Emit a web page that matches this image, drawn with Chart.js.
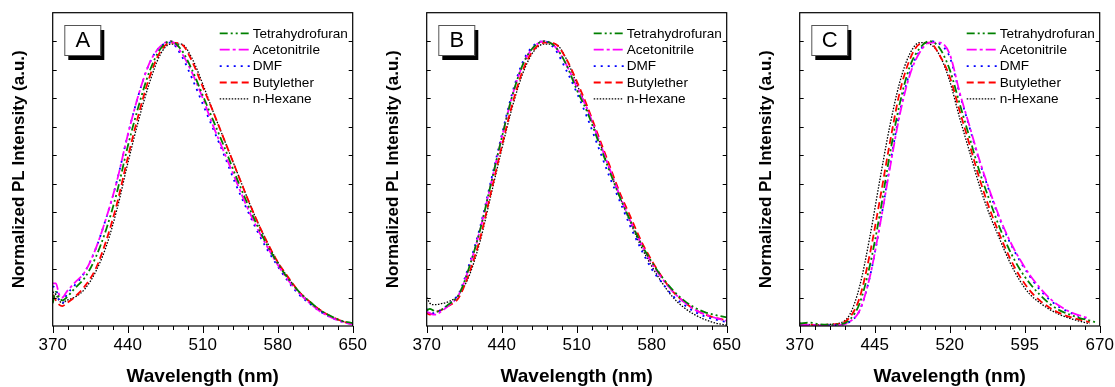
<!DOCTYPE html>
<html>
<head>
<meta charset="utf-8">
<script src="https://cdn.jsdelivr.net/npm/chart.js@4.4.1/dist/chart.umd.min.js"></script>
<style>
  body { margin: 0; background: #fff; width: 1115px; height: 387px; position: relative; overflow: hidden; }
  canvas { position: absolute; top: 0; }
</style>
</head>
<body>
<canvas id="chartA" width="372" height="387" style="left:0px"></canvas>
<canvas id="chartB" width="372" height="387" style="left:372px"></canvas>
<canvas id="chartC" width="371" height="387" style="left:744px"></canvas>
<script>
// --- data ---
const seriesNames = ["Tetrahydrofuran", "Acetonitrile", "DMF", "Butylether", "n-Hexane"];

const xTicksAB = [370, 440, 510, 580, 650];
const xTicksC = [370, 445, 520, 595, 670];

// panel A
const wlA = [370, 373, 376, 379, 383, 390, 400, 410, 420, 430, 440, 450, 460, 470, 480, 490, 500, 510, 520, 530, 540, 550, 560, 570, 580, 590, 600, 610, 620, 630, 640, 650];
const thfA = [0.08, 0.12, 0.10, 0.09, 0.10, 0.13, 0.17, 0.24, 0.34, 0.47, 0.63, 0.77, 0.89, 0.97, 1.0, 0.97, 0.90, 0.81, 0.72, 0.63, 0.535, 0.445, 0.36, 0.285, 0.22, 0.165, 0.12, 0.085, 0.055, 0.034, 0.018, 0.01];
const acnA = [0.15, 0.15, 0.11, 0.10, 0.12, 0.15, 0.19, 0.27, 0.38, 0.51, 0.67, 0.81, 0.92, 0.98, 1.0, 0.96, 0.89, 0.80, 0.70, 0.61, 0.52, 0.43, 0.35, 0.28, 0.215, 0.16, 0.115, 0.08, 0.05, 0.03, 0.015, 0.005];
const dmfA = [0.14, 0.13, 0.09, 0.08, 0.11, 0.14, 0.19, 0.27, 0.38, 0.51, 0.67, 0.81, 0.92, 0.98, 0.995, 0.95, 0.87, 0.78, 0.69, 0.60, 0.505, 0.42, 0.34, 0.27, 0.21, 0.155, 0.11, 0.078, 0.05, 0.03, 0.015, 0.006];
const buA = [0.11, 0.09, 0.075, 0.07, 0.08, 0.10, 0.14, 0.20, 0.30, 0.43, 0.59, 0.74, 0.87, 0.96, 0.995, 0.99, 0.93, 0.84, 0.75, 0.655, 0.56, 0.465, 0.375, 0.295, 0.225, 0.17, 0.12, 0.085, 0.055, 0.033, 0.017, 0.006];
const hexA = [0.12, 0.11, 0.09, 0.08, 0.09, 0.10, 0.13, 0.19, 0.28, 0.41, 0.57, 0.72, 0.85, 0.95, 0.99, 0.99, 0.94, 0.85, 0.75, 0.655, 0.56, 0.465, 0.375, 0.295, 0.225, 0.168, 0.12, 0.084, 0.055, 0.033, 0.017, 0.006];

// panel B
const wlB = [370, 373, 376, 379, 383, 390, 400, 410, 420, 430, 440, 450, 460, 470, 480, 490, 500, 510, 520, 530, 540, 550, 560, 570, 580, 590, 600, 610, 620, 630, 640, 650];
const thfB = [0.055, 0.06, 0.055, 0.05, 0.055, 0.075, 0.11, 0.21, 0.34, 0.50, 0.66, 0.81, 0.92, 0.98, 1.0, 0.98, 0.92, 0.83, 0.75, 0.65, 0.55, 0.455, 0.37, 0.29, 0.225, 0.17, 0.125, 0.09, 0.065, 0.048, 0.038, 0.03];
const acnB = [0.05, 0.045, 0.04, 0.04, 0.05, 0.07, 0.11, 0.21, 0.34, 0.50, 0.66, 0.81, 0.92, 0.98, 1.0, 0.98, 0.92, 0.84, 0.76, 0.66, 0.56, 0.46, 0.37, 0.29, 0.22, 0.165, 0.12, 0.085, 0.058, 0.04, 0.028, 0.018];
const dmfB = [0.06, 0.05, 0.045, 0.05, 0.055, 0.075, 0.115, 0.22, 0.35, 0.51, 0.67, 0.82, 0.93, 0.985, 1.0, 0.97, 0.90, 0.82, 0.73, 0.63, 0.53, 0.44, 0.35, 0.27, 0.20, 0.15, 0.105, 0.075, 0.05, 0.033, 0.022, 0.014];
const buB = [0.045, 0.04, 0.045, 0.05, 0.055, 0.07, 0.10, 0.19, 0.31, 0.47, 0.63, 0.78, 0.90, 0.97, 0.995, 0.99, 0.94, 0.86, 0.77, 0.67, 0.57, 0.47, 0.385, 0.30, 0.23, 0.17, 0.12, 0.085, 0.058, 0.04, 0.028, 0.02];
const hexB = [0.10, 0.08, 0.075, 0.075, 0.078, 0.085, 0.11, 0.18, 0.30, 0.46, 0.62, 0.77, 0.89, 0.965, 0.99, 0.99, 0.94, 0.85, 0.76, 0.66, 0.555, 0.455, 0.365, 0.28, 0.21, 0.15, 0.10, 0.065, 0.04, 0.022, 0.01, 0.003];

// panel C
const wlC = [370, 380, 390, 400, 410, 420, 430, 440, 450, 460, 470, 480, 490, 500, 510, 520, 530, 540, 550, 560, 570, 580, 590, 600, 610, 620, 630, 640, 650, 660, 666];
const thfC = [0.008, 0.012, 0.006, 0.005, 0.006, 0.022, 0.08, 0.21, 0.39, 0.60, 0.78, 0.91, 0.975, 1.0, 0.975, 0.90, 0.78, 0.66, 0.54, 0.44, 0.345, 0.265, 0.20, 0.15, 0.11, 0.078, 0.055, 0.04, 0.028, 0.019, 0.013];
const acnC = [0.004, 0.003, 0.003, 0.003, 0.004, 0.015, 0.055, 0.17, 0.35, 0.55, 0.74, 0.88, 0.96, 0.995, 0.995, 0.955, 0.82, 0.70, 0.58, 0.475, 0.38, 0.30, 0.235, 0.18, 0.135, 0.097, 0.07, 0.05, 0.037, 0.026, null];
const dmfC = [0.002, 0.002, 0.003, 0.003, 0.004, 0.015, 0.055, 0.17, 0.35, 0.56, 0.75, 0.89, 0.965, 1.0, 0.99, 0.945, 0.815, 0.695, 0.575, 0.47, 0.375, 0.295, 0.23, 0.175, 0.128, 0.092, 0.066, 0.048, 0.034, 0.024, null];
const buC = [0.008, 0.005, 0.004, 0.005, 0.008, 0.03, 0.10, 0.25, 0.44, 0.64, 0.82, 0.935, 0.99, 0.995, 0.95, 0.875, 0.755, 0.635, 0.515, 0.41, 0.32, 0.24, 0.175, 0.125, 0.09, 0.064, 0.045, 0.032, 0.022, 0.014, null];
const hexC = [0.01, 0.005, 0.004, 0.006, 0.01, 0.04, 0.14, 0.31, 0.51, 0.70, 0.855, 0.955, 0.995, 0.99, 0.95, 0.86, 0.73, 0.61, 0.49, 0.39, 0.305, 0.225, 0.16, 0.112, 0.082, 0.058, 0.04, 0.027, 0.017, 0.008, null];

// --- styles ---
const FONT = 'Arial, "Liberation Sans", sans-serif';
const lineStyles = [
    { color: '#008000', dash: [8, 3, 2, 3, 2, 3] },
    { color: '#ff00ff', dash: [10, 3, 3, 3] },
    { color: '#0000ff', dash: [2, 5] },
    { color: '#ff0000', dash: [7, 4] },
    { color: '#000000', dash: [1.5, 1.5] }
];

function makeDatasets(wl, lists) {
    return lists.map((vals, i) => ({
        label: seriesNames[i],
        data: wl.map((w, k) => ({ x: w, y: vals[k] })),
        borderColor: lineStyles[i].color,
        borderDash: lineStyles[i].dash,
        borderWidth: i === 4 ? 1.3 : 1.8,
        pointRadius: 0,
        fill: false,
        cubicInterpolationMode: 'monotone',
        spanGaps: false
    }));
}

// axes frame, minor ticks, titles, legend and panel letter
const decorations = {
    id: 'decorations',
    afterDraw(chart, args, opts) {
        const { ctx, chartArea: a, scales: { x, y } } = chart;
        ctx.save();
        ctx.strokeStyle = '#000';
        ctx.lineWidth = 1.2;
        ctx.setLineDash([]);
        ctx.strokeRect(a.left, a.top, a.right - a.left, a.bottom - a.top);

        // y ticks, inward on both sides
        ctx.lineWidth = 1;
        for (let i = 1; i <= 10; i++) {
            const py = Math.round(y.getPixelForValue(i / 10)) + 0.5;
            ctx.beginPath();
            ctx.moveTo(a.left, py); ctx.lineTo(a.left + 4, py);
            ctx.moveTo(a.right, py); ctx.lineTo(a.right - 4, py);
            ctx.stroke();
        }
        // x ticks, outward
        for (let v = x.min; v <= x.max + 0.01; v += opts.minor) {
            const major = Math.abs(((v - x.min) / opts.major) - Math.round((v - x.min) / opts.major)) < 0.01;
            const px = Math.round(x.getPixelForValue(v)) + 0.5;
            ctx.beginPath();
            ctx.moveTo(px, a.bottom);
            ctx.lineTo(px, a.bottom + (major ? 7 : 4));
            ctx.stroke();
        }

        // axis titles
        ctx.fillStyle = '#000';
        ctx.textAlign = 'center';
        ctx.textBaseline = 'middle';
        ctx.font = 'bold 19px ' + FONT;
        ctx.fillText('Wavelength (nm)', (a.left + a.right) / 2, 377);
        ctx.save();
        ctx.translate(a.left - 33.5, (a.top + a.bottom) / 2);
        ctx.rotate(-Math.PI / 2);
        ctx.font = 'bold 17px ' + FONT;
        ctx.fillText('Normalized PL Intensity (a.u.)', 0, 0);
        ctx.restore();

        // legend
        ctx.font = '13.6px ' + FONT;
        ctx.textAlign = 'left';
        chart.data.datasets.forEach((ds, i) => {
            const ly = a.top + 20.6 + i * 16.4;
            ctx.beginPath();
            ctx.strokeStyle = ds.borderColor;
            ctx.lineWidth = ds.borderWidth;
            ctx.setLineDash(ds.borderDash);
            ctx.moveTo(a.right - 133, ly);
            ctx.lineTo(a.right - 103, ly);
            ctx.stroke();
            ctx.fillText(ds.label, a.right - 100, ly + 0.5);
        });

        // panel letter box with shadow
        ctx.setLineDash([]);
        const bx = a.left + 11.6, by = a.top + 12.3, bw = 36, bh = 30;
        ctx.fillStyle = '#000';
        ctx.fillRect(bx + 4, by + 5, bw, bh);
        ctx.fillStyle = '#fff';
        ctx.fillRect(bx, by, bw, bh);
        ctx.strokeStyle = '#555';
        ctx.lineWidth = 1;
        ctx.strokeRect(bx + 0.5, by + 0.5, bw, bh);
        ctx.fillStyle = '#000';
        ctx.font = '22px ' + FONT;
        ctx.textAlign = 'center';
        ctx.fillText(opts.letter, bx + bw / 2 + 0.5, by + bh / 2 + 1);
        ctx.restore();
    }
};

function makeChart(id, wl, lists, xMin, xMax, xTicks, minor, letter, leftW, padRight) {
    const ctx = document.getElementById(id).getContext('2d');
    return new Chart(ctx, {
        type: 'line',
        data: { datasets: makeDatasets(wl, lists) },
        options: {
            responsive: false,
            animation: false,
            events: [],
            layout: { padding: { top: 12.7, right: padRight, left: 0, bottom: 0 } },
            plugins: {
                legend: { display: false },
                tooltip: { enabled: false },
                decorations: { letter: letter, minor: minor, major: xTicks[1] - xTicks[0] }
            },
            scales: {
                x: {
                    type: 'linear',
                    min: xMin,
                    max: xMax,
                    afterBuildTicks: s => { s.ticks = xTicks.map(v => ({ value: v })); },
                    afterFit: s => { s.height = 61; s.paddingLeft = 0; s.paddingRight = 0; },
                    grid: { display: false, drawTicks: false },
                    border: { display: false },
                    ticks: {
                        font: { size: 17, family: FONT },
                        color: '#000',
                        padding: 9,
                        maxRotation: 0,
                        autoSkip: false
                    }
                },
                y: {
                    min: 0,
                    max: 1.1,
                    afterFit: s => { s.width = leftW; s.paddingTop = 0; s.paddingBottom = 0; },
                    grid: { display: false, drawTicks: false },
                    border: { display: false },
                    ticks: { display: false }
                }
            }
        },
        plugins: [decorations]
    });
}

makeChart('chartA', wlA, [thfA, acnA, dmfA, buA, hexA], 370, 650, xTicksAB, 14, 'A', 52.7, 19.3);
makeChart('chartB', wlB, [thfB, acnB, dmfB, buB, hexB], 370, 650, xTicksAB, 14, 'B', 54.7, 17.3);
makeChart('chartC', wlC, [thfC, acnC, dmfC, buC, hexC], 370, 670, xTicksC, 15, 'C', 55.7, 15.3);
</script>
</body>
</html>
